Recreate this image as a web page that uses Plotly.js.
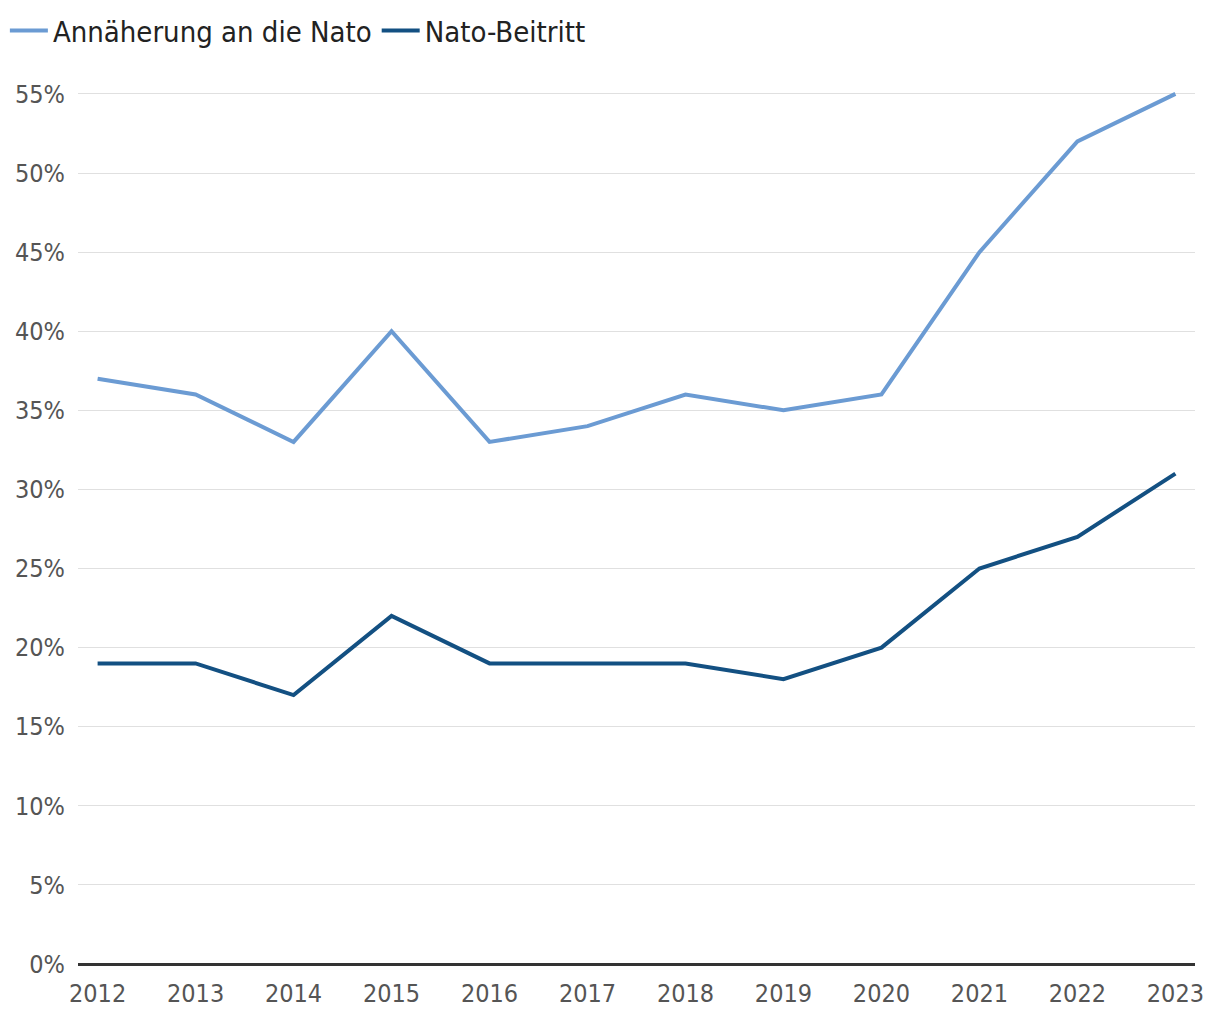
<!DOCTYPE html>
<html>
<head>
<meta charset="utf-8">
<script src="https://cdn.plot.ly/plotly-3.0.1.min.js"></script>
<style>
  body { margin: 0; background: #fff; }
  #chart { width: 1220px; height: 1020px; }
</style>
</head>
<body>
<div id="chart"></div>
<script>
var years = [2012, 2013, 2014, 2015, 2016, 2017, 2018, 2019, 2020, 2021, 2022, 2023];
var annaeherung = [37, 36, 33, 40, 33, 34, 36, 35, 36, 45, 52, 55];
var beitritt = [19, 19, 17, 22, 19, 19, 19, 18, 20, 25, 27, 31];
var yTicks = [0, 5, 10, 15, 20, 25, 30, 35, 40, 45, 50, 55];

var fontFamily = '"DejaVu Sans Condensed", "DejaVu Sans", sans-serif';

var data = [
  {
    x: years,
    y: annaeherung,
    name: 'Annäherung an die Nato',
    type: 'scatter',
    mode: 'lines',
    line: { color: '#6b9bd3', width: 4 }
  },
  {
    x: years,
    y: beitritt,
    name: 'Nato-Beitritt',
    type: 'scatter',
    mode: 'lines',
    line: { color: '#135082', width: 4 }
  }
];

var layout = {
  width: 1220,
  height: 1020,
  margin: { l: 78, r: 25, t: 86, b: 56 },
  paper_bgcolor: '#fff',
  plot_bgcolor: '#fff',
  font: { family: fontFamily, color: '#555' },
  showlegend: true,
  legend: {
    orientation: 'h',
    xref: 'container',
    yref: 'container',
    x: 0.004,
    xanchor: 'left',
    y: 0.995,
    yanchor: 'top',
    font: { size: 29, color: '#222', family: fontFamily },
    itemwidth: 38,
    traceorder: 'normal'
  },
  xaxis: {
    range: [2011.8, 2023.2],
    tickvals: years,
    ticktext: years.map(String),
    showgrid: false,
    zeroline: false,
    showline: false,
    ticks: '',
    automargin: false,
    ticklabelstandoff: 12,
    tickfont: { size: 25, color: '#555' },
    fixedrange: true
  },
  yaxis: {
    range: [0, 55.5],
    tickvals: yTicks,
    ticktext: yTicks.map(function (v) { return v + '%'; }),
    showgrid: true,
    gridcolor: '#e0e0e0',
    gridwidth: 1.2,
    zeroline: true,
    zerolinecolor: '#333',
    zerolinewidth: 2.5,
    ticks: '',
    automargin: false,
    ticklabelstandoff: 12,
    tickfont: { size: 25, color: '#555' },
    fixedrange: true
  }
};

Plotly.newPlot('chart', data, layout, { displayModeBar: false, responsive: false });
</script>
</body>
</html>
